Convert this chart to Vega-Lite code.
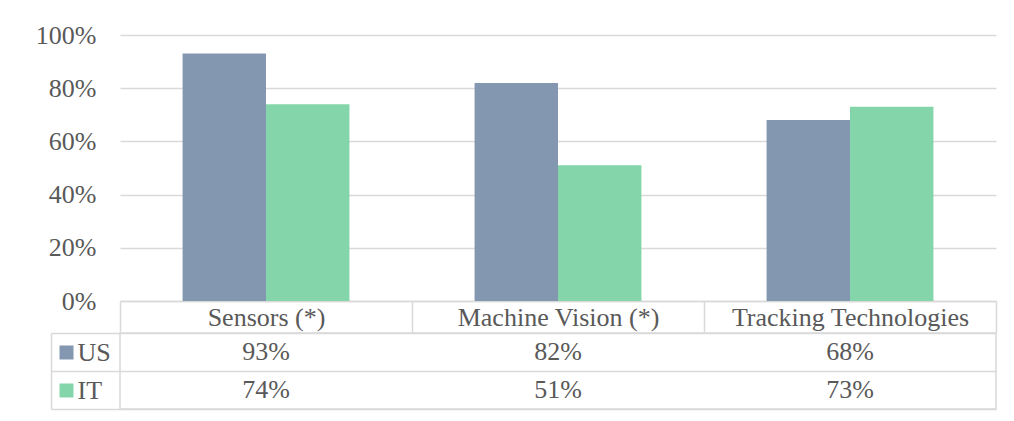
{
  "$schema": "https://vega.github.io/schema/vega-lite/v6.json",
  "padding": {"left": 35, "top": 22, "right": 5, "bottom": 5},
  "background": "#ffffff",
  "spacing": -15,
  "config": {
    "font": "Liberation Serif",
    "view": {"stroke": null},
    "axis": {
      "labelFont": "Liberation Serif",
      "labelFontSize": 26,
      "labelColor": "#595959",
      "gridColor": "#d9d9d9",
      "domainColor": "#d9d9d9",
      "tickColor": "#d9d9d9"
    }
  },
  "data": {
    "values": [
      {"category": "Sensors (*)", "country": "US", "value": 0.93},
      {"category": "Sensors (*)", "country": "IT", "value": 0.74},
      {"category": "Machine Vision (*)", "country": "US", "value": 0.82},
      {"category": "Machine Vision (*)", "country": "IT", "value": 0.51},
      {"category": "Tracking Technologies", "country": "US", "value": 0.68},
      {"category": "Tracking Technologies", "country": "IT", "value": 0.73}
    ]
  },
  "vconcat": [
    {
      "width": 876,
      "height": 266,
      "mark": {"type": "bar"},
      "encoding": {
        "x": {
          "field": "category", "type": "nominal", "title": null,
          "scale": {"domain": ["Sensors (*)", "Machine Vision (*)", "Tracking Technologies"], "paddingInner": 0, "paddingOuter": 0},
          "axis": {
            "orient": "bottom", "labelAngle": 0, "labelLimit": 0, "labelOverlap": false,
            "domain": true, "domainWidth": 1.5,
            "tickBand": "extent", "tickSize": 31, "tickWidth": 1.5,
            "labelPadding": -7, "labelBaseline": "alphabetic", "grid": false
          }
        },
        "xOffset": {
          "field": "country", "type": "nominal",
          "scale": {"domain": ["US", "IT"], "paddingInner": 0, "paddingOuter": 0.75}
        },
        "y": {
          "field": "value", "type": "quantitative",
          "scale": {"domain": [0, 1], "nice": false},
          "axis": {
            "title": null, "values": [0, 0.2, 0.4, 0.6, 0.8, 1], "format": ".0%",
            "domain": false, "ticks": false, "labelPadding": 24,
            "grid": true, "gridWidth": 1.5
          }
        },
        "color": {
          "field": "country", "type": "nominal",
          "scale": {"domain": ["US", "IT"], "range": ["#8497B0", "#84D6AA"]},
          "legend": null
        }
      }
    },
    {
      "width": 876,
      "height": 76,
      "view": {"stroke": "#d9d9d9", "strokeWidth": 1.5},
      "resolve": {"axis": {"y": "independent"}},
      "layer": [
        {
          "mark": {"type": "text", "fontSize": 26, "color": "#595959", "font": "Liberation Serif", "baseline": "middle"},
          "encoding": {
            "x": {
              "field": "category", "type": "nominal", "title": null,
              "scale": {"domain": ["Sensors (*)", "Machine Vision (*)", "Tracking Technologies"], "paddingInner": 0, "paddingOuter": 0},
              "axis": {"orient": "bottom", "labels": false, "ticks": false, "domain": false, "grid": true, "tickBand": "extent", "gridWidth": 1.5}
            },
            "y": {
              "field": "country", "type": "nominal", "title": null,
              "scale": {"domain": ["US", "IT"], "paddingInner": 0, "paddingOuter": 0},
              "axis": {
                "orient": "left", "domain": false, "ticks": true, "tickBand": "extent",
                "tickSize": 69, "tickWidth": 1.5, "labelAlign": "left", "labelPadding": -26,
                "labelBaseline": "middle", "grid": true, "gridWidth": 1.5
              }
            },
            "text": {"field": "value", "type": "quantitative", "format": ".0%"}
          }
        },
        {
          "mark": {"type": "text", "text": ""},
          "encoding": {
            "x": {"field": "category", "type": "nominal", "axis": null},
            "y": {
              "field": "country", "type": "nominal",
              "axis": {
                "orient": "left", "offset": 47, "title": null, "domain": false, "labels": false,
                "grid": false, "ticks": true, "tickSize": 14, "tickWidth": 14,
                "tickColor": {"condition": {"test": "datum.value === 'US'", "value": "#8497B0"}, "value": "#84D6AA"}
              }
            }
          }
        },
        {
          "mark": {"type": "text", "text": ""},
          "encoding": {
            "x": {"field": "category", "type": "nominal", "axis": null},
            "y": {
              "field": "country", "type": "nominal",
              "axis": {
                "orient": "left", "offset": 69, "title": null, "domain": true, "domainWidth": 1.5,
                "labels": false, "ticks": false, "grid": false
              }
            }
          }
        }
      ]
    }
  ]
}
